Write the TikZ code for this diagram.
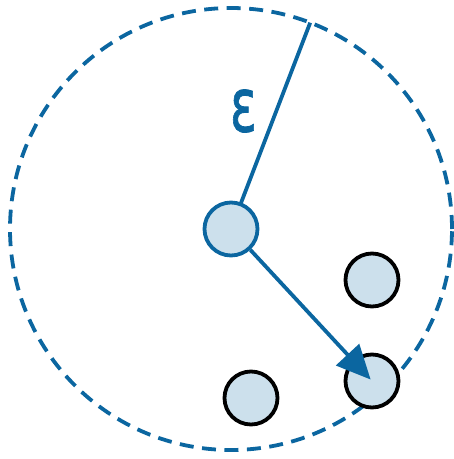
\documentclass[tikz,border=0pt]{standalone}
\usepackage{fontspec}
\setsansfont{DejaVu Sans}
\newfontfamily\epsfont[FakeBold=1.2]{DejaVu Sans}
\usetikzlibrary{positioning, calc, arrows.meta}
\definecolor{EpsBlue}{HTML}{0B66A0}
\definecolor{PointFill}{HTML}{CCE0EC}

\begin{document}
\begin{tikzpicture}[
    x=1pt, y=-1pt,
    font=\sffamily,
    point/.style={circle, draw=black, fill=PointFill, minimum size=53pt, inner sep=0pt, line width=3.8pt},
    query/.style={point, draw=EpsBlue},
    ball/.style={dashed, dash pattern=on 14pt off 8.5pt, line width=3.8pt, color=EpsBlue},
    epsline/.style={line width=3.8pt, color=EpsBlue},
    arrow/.style={-{Triangle[length=34pt, width=31pt]}, line width=3.8pt, color=EpsBlue}
]
    \useasboundingbox (0,0) rectangle (454,459);
    \coordinate (C) at (231,229);
    \draw[ball] (C) circle[radius=221pt];
    \coordinate (R) at ($(C)+(-69:221)$);

    \draw[epsline] (C) -- (R);
    \node (eps) at (243.5,111) [text=EpsBlue, inner sep=0pt] {\resizebox{27pt}{42pt}{\epsfont ε}};

    \node (Q) at (C) [query] {};
    \node (P1) at (372,280) [point] {};
    \node (P2) at (372,381) [point] {};
    \node (P3) at (251,398) [point] {};

    \draw[arrow, shorten >=2pt] (Q) -- (P2.center);
\end{tikzpicture}
\end{document}
